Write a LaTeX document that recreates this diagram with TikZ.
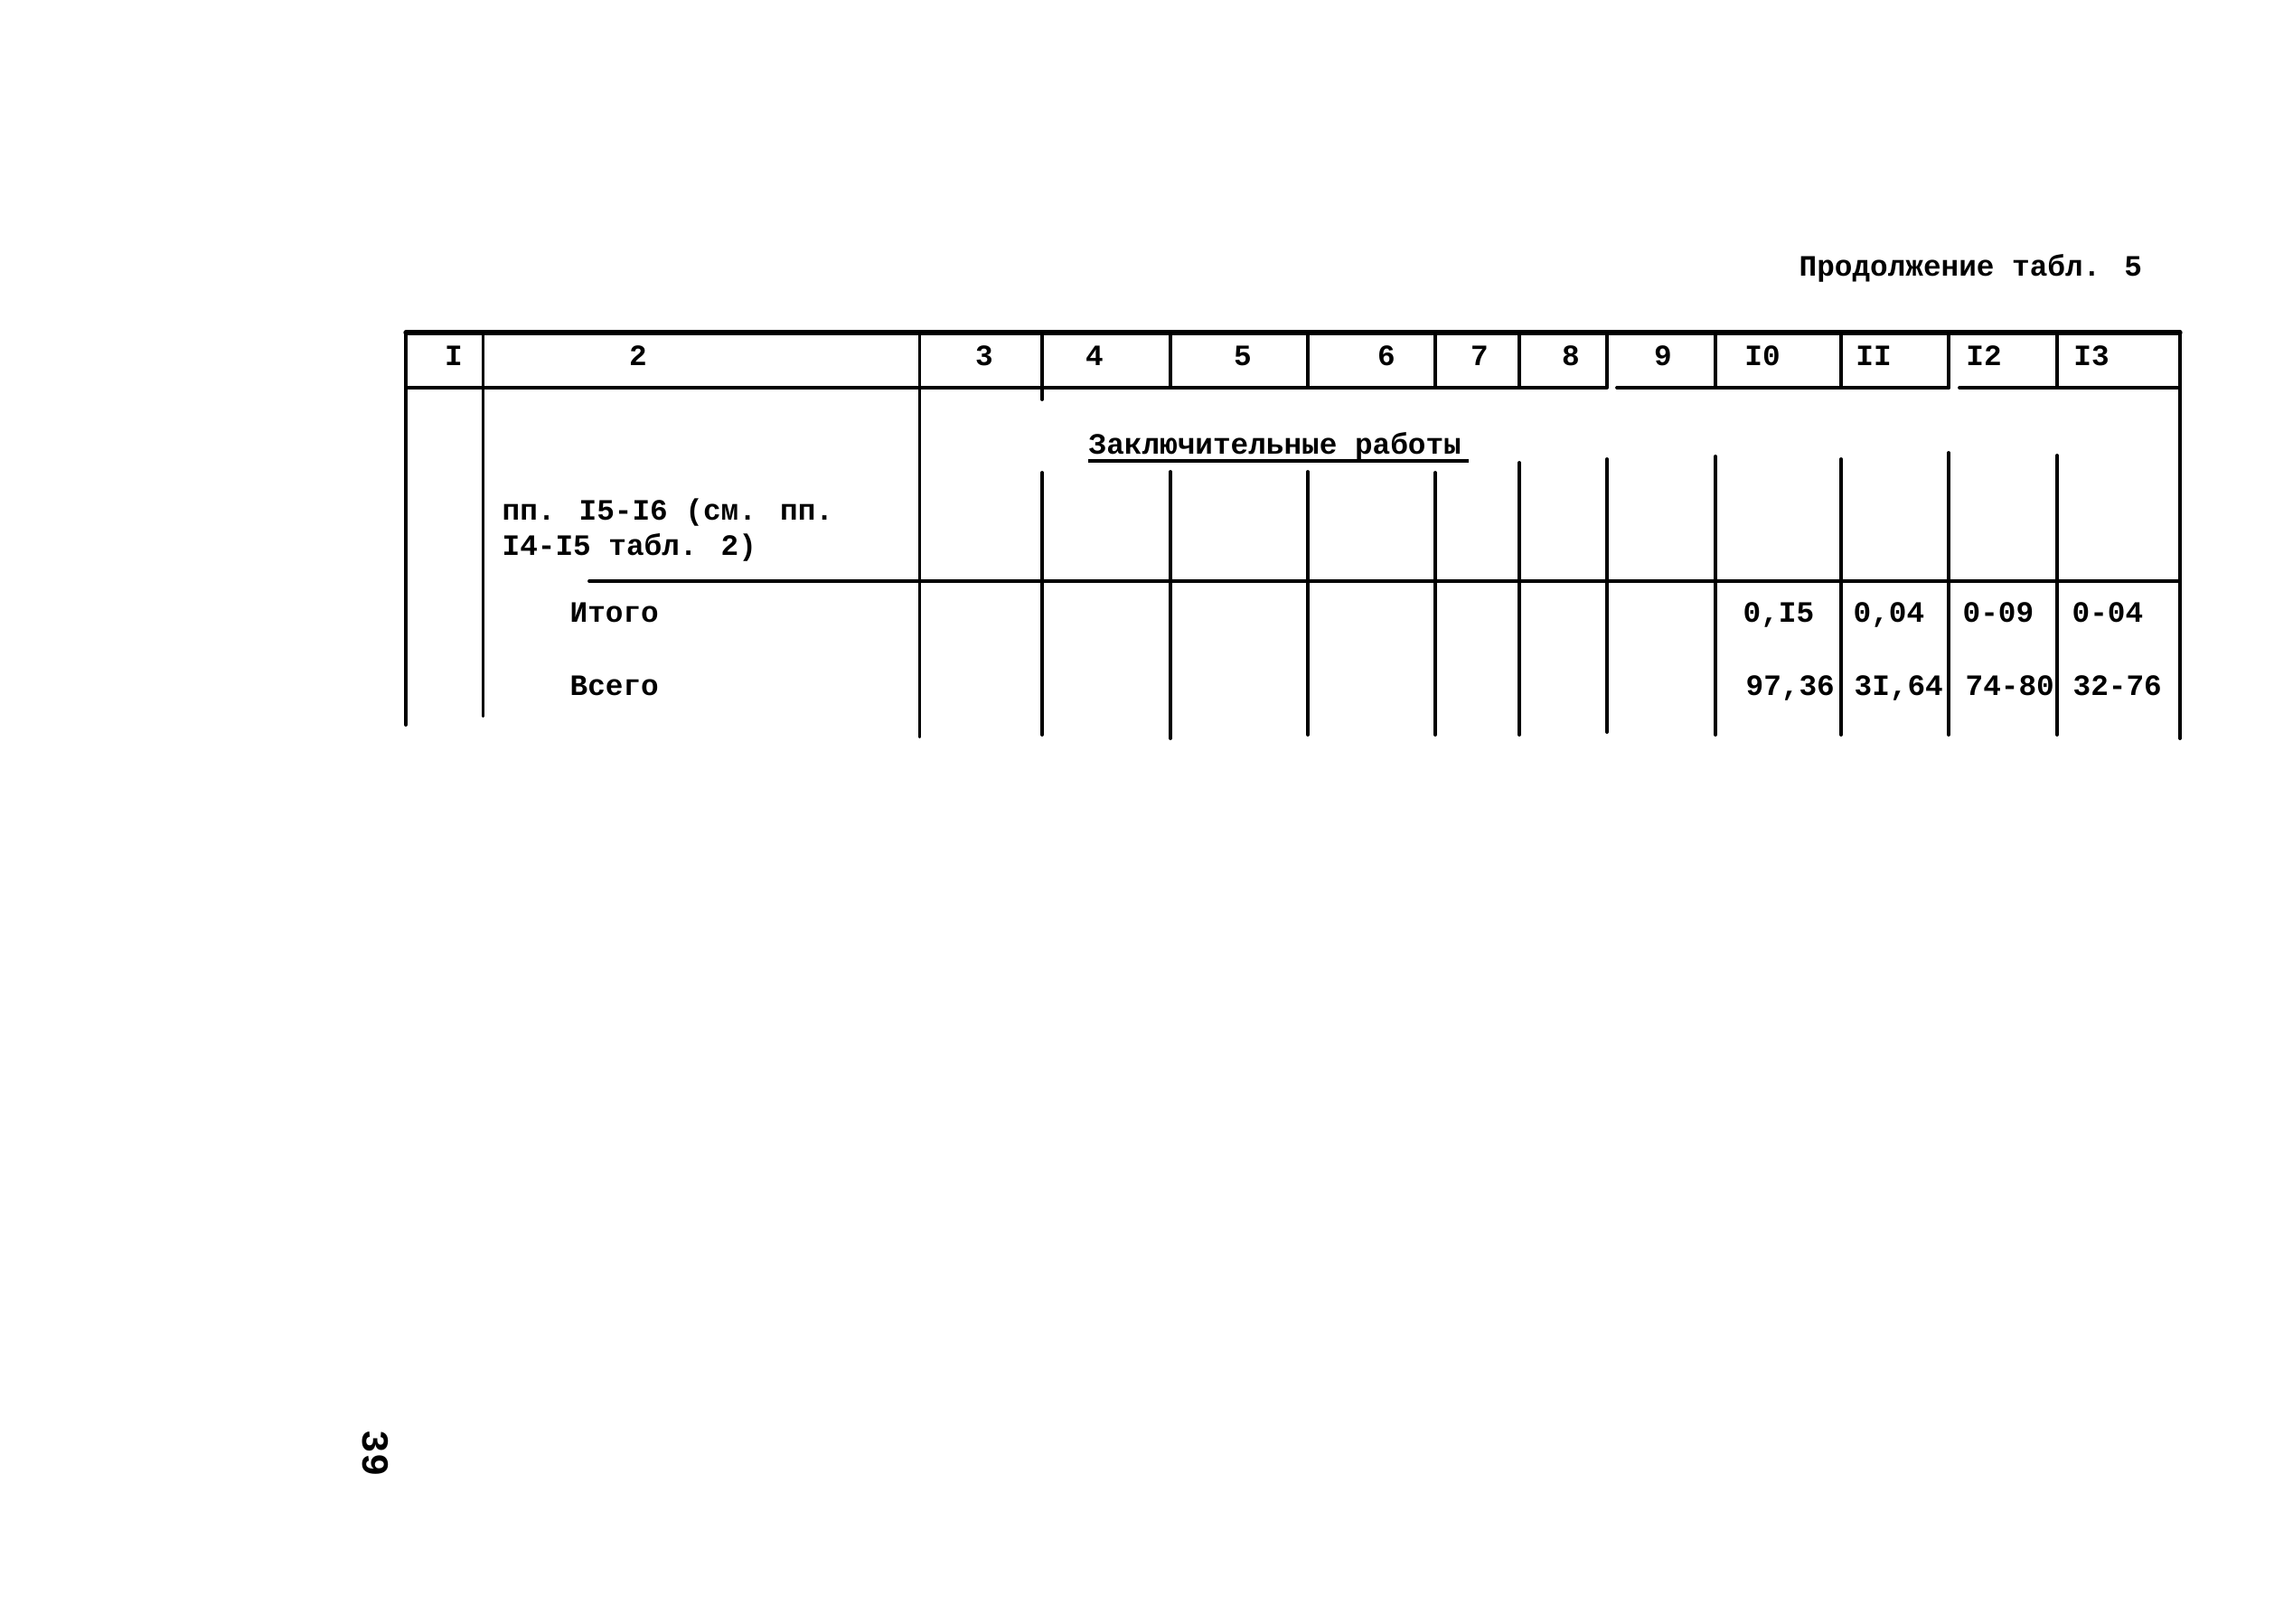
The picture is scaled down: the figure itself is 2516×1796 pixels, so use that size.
\documentclass[tikz,border=0pt]{standalone}
\usepackage{fontspec}
\newfontfamily\tw{Liberation Mono}
\begin{document}
\begin{tikzpicture}[x=0.01cm,y=-0.01cm,
  rule/.style={line width=1.1pt, line cap=round},
  toprule/.style={line width=1.5pt, line cap=round},
  txt/.style={font=\tw\bfseries\fontsize{9.3}{11}\selectfont, inner sep=0pt, anchor=base west},
  hdr/.style={font=\tw\bfseries\fontsize{9.3}{11}\selectfont, inner sep=0pt, anchor=base},
  pagenum/.style={font=\tw\bfseries\fontsize{12}{14}\selectfont, inner sep=0pt, rotate=-90}]
\useasboundingbox (0,0) rectangle (2516,1796);
\fill[white] (0,0) rectangle (2516,1796);

% title
\node[txt] (title) at (1990,305) {Продолжение табл. 5};

% horizontal rules
\draw[toprule] (449,368) -- (2412,368);
\draw[rule] (449,429) -- (1777,429);
\draw[rule] (1789,429) -- (2156,429);
\draw[rule] (2168,429) -- (2412,429);
\draw[rule] (652,643) -- (2412,643);

% vertical rules
\draw[rule] (449,368) -- (449,802);
\draw[rule] (534.5,368) -- (534.5,792);
\draw[rule] (1017.5,368) -- (1017.5,815);
\draw[rule] (1153,368) -- (1153,442);
\draw[rule] (1153,523) -- (1153,813);
\draw[rule] (1295,368) -- (1295,429);
\draw[rule] (1295,522) -- (1295,817);
\draw[rule] (1447,368) -- (1447,429);
\draw[rule] (1447,522) -- (1447,813);
\draw[rule] (1588,368) -- (1588,429);
\draw[rule] (1588,523) -- (1588,813);
\draw[rule] (1681,368) -- (1681,429);
\draw[rule] (1681,512) -- (1681,813);
\draw[rule] (1778,368) -- (1778,429);
\draw[rule] (1778,508) -- (1778,810);
\draw[rule] (1898,368) -- (1898,429);
\draw[rule] (1898,505) -- (1898,813);
\draw[rule] (2037,368) -- (2037,429);
\draw[rule] (2037,508) -- (2037,813);
\draw[rule] (2156,368) -- (2156,429);
\draw[rule] (2156,501) -- (2156,813);
\draw[rule] (2276,368) -- (2276,429);
\draw[rule] (2276,504) -- (2276,813);
\draw[rule] (2412,368) -- (2412,817);

% header
\node[hdr] (h1) at (502,404) {I};
\node[hdr] (h2) at (706,404) {2};
\node[hdr] (h3) at (1089,404) {3};
\node[hdr] (h4) at (1211,404) {4};
\node[hdr] (h5) at (1375,404) {5};
\node[hdr] (h6) at (1534,404) {6};
\node[hdr] (h7) at (1637,404) {7};
\node[hdr] (h8) at (1738,404) {8};
\node[hdr] (h9) at (1840,404) {9};
\node[hdr] (h10) at (1950,404) {I0};
\node[hdr] (h11) at (2073,404) {II};
\node[hdr] (h12) at (2195,404) {I2};
\node[hdr] (h13) at (2314,404) {I3};

% section title
\node[txt] (zr) at (1204,502) {Заключительные работы};
\draw[line width=1pt] ([yshift=-2.3pt]zr.base west) -- ([yshift=-2.3pt,xshift=2pt]zr.base east);

% row texts
\node[txt] (r1a) at (555,575) {пп. I5-I6 (см. пп.};
\node[txt] (r1b) at (555,614) {I4-I5 табл. 2)};
\node[txt] (itogo) at (630,688) {Итого};
\node[txt] (vsego) at (630,769) {Всего};

% values
\node[txt] (v10a) at (1928,688) {0,I5};
\node[txt] (v11a) at (2050,688) {0,04};
\node[txt] (v12a) at (2171,688) {0-09};
\node[txt] (v13a) at (2292,688) {0-04};
\node[txt] (v10b) at (1931,769) {97,36};
\node[txt] (v11b) at (2051,769) {3I,64};
\node[txt] (v12b) at (2174,769) {74-80};
\node[txt] (v13b) at (2293,769) {32-76};

% page number
\node[pagenum] (pg) at (415,1608) {39};
\end{tikzpicture}
\end{document}
